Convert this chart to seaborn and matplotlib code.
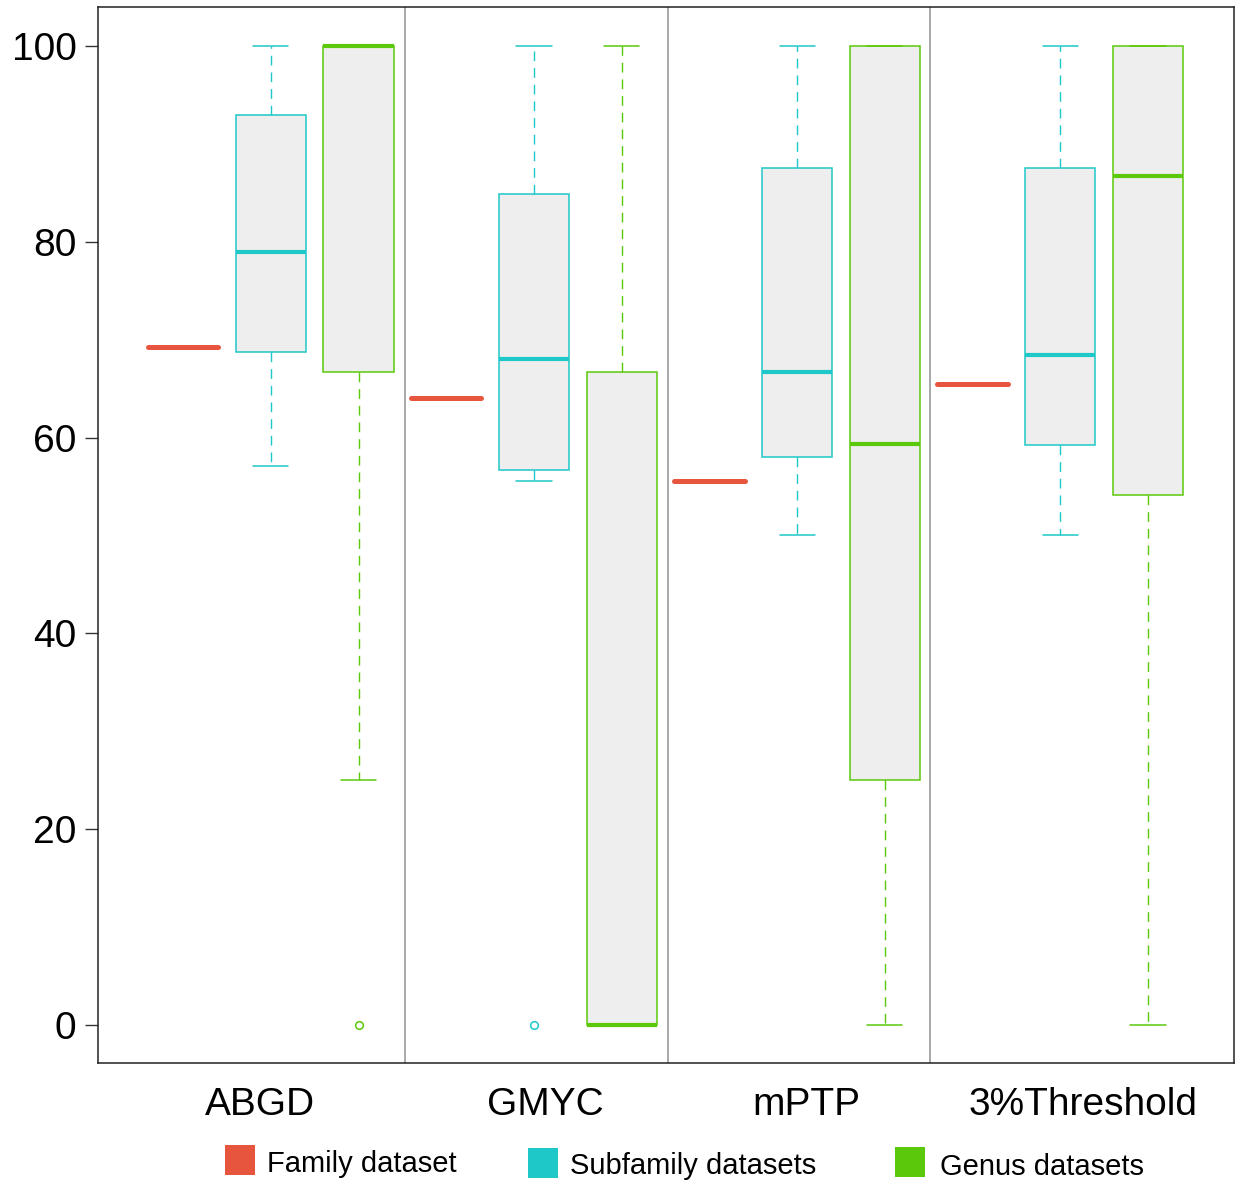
import numpy as np
import matplotlib
matplotlib.use("Agg")
import matplotlib.pyplot as plt
import matplotlib.patches as mpatches
import matplotlib.transforms as mtransforms
import seaborn as sns

# ---- data ----
methods = ["ABGD", "GMYC", "mPTP", "3%Threshold"]
legend_labels = ["Family dataset", "Subfamily datasets", "Genus datasets"]

family_values = [69.2, 64.0, 55.6, 65.5]

sub_whislo = [57.1, 55.6, 50.0, 50.0]
sub_q1 = [68.7, 56.7, 58.0, 59.2]
sub_med = [78.9, 68.0, 66.7, 68.4]
sub_q3 = [92.9, 84.9, 87.5, 87.5]
sub_whishi = [100, 100, 100, 100]
sub_fliers = [[], [0], [], []]

genus_whislo = [25.0, 0.0, 0.0, 0.0]
genus_q1 = [66.7, 0.0, 25.0, 54.1]
genus_med = [100.0, 0.0, 59.3, 86.7]
genus_q3 = [100.0, 66.7, 100.0, 100.0]
genus_whishi = [100, 100, 100, 100]
genus_fliers = [[0], [], [], []]

yticks = [0, 20, 40, 60, 80, 100]

# ---- style ----
sns.set_theme(style="white")
plt.rcParams["font.family"] = ["Liberation Sans", "DejaVu Sans"]

c_fam = "#E8553F"
c_sub = "#1EC8C8"
c_gen = "#5BC80B"
fill = "#EEEEEE"

fig = plt.figure(figsize=(12.36, 11.84), dpi=100)
ax = fig.add_axes([98 / 1236, 1 - 1063 / 1184, (1234 - 98) / 1236, (1063 - 7) / 1184])

stats, colors, kinds = [], [], []
for i in range(len(methods)):
    v = family_values[i]
    stats.append(dict(med=v, q1=v, q3=v, whislo=v, whishi=v, fliers=[]))
    colors.append(c_fam); kinds.append("fam")
    stats.append(dict(med=sub_med[i], q1=sub_q1[i], q3=sub_q3[i],
                      whislo=sub_whislo[i], whishi=sub_whishi[i], fliers=sub_fliers[i]))
    colors.append(c_sub); kinds.append("box")
    stats.append(dict(med=genus_med[i], q1=genus_q1[i], q3=genus_q3[i],
                      whislo=genus_whislo[i], whishi=genus_whishi[i], fliers=genus_fliers[i]))
    colors.append(c_gen); kinds.append("box")

positions = np.arange(1, len(stats) + 1)
art = ax.bxp(stats, positions=positions, widths=0.8, patch_artist=True,
             showfliers=True, manage_ticks=False)

for j, (col, kind) in enumerate(zip(colors, kinds)):
    box = art["boxes"][j]
    med = art["medians"][j]
    if kind == "fam":
        box.set_visible(False)
        med.set_color(col); med.set_linewidth(3.6); med.set_solid_capstyle("round")
        for w in art["whiskers"][2 * j:2 * j + 2]:
            w.set_visible(False)
        for c in art["caps"][2 * j:2 * j + 2]:
            c.set_visible(False)
        continue
    box.set_facecolor(fill)
    box.set_edgecolor(col)
    box.set_linewidth(1.1)
    med.set_color(col); med.set_linewidth(3.0); med.set_solid_capstyle("butt")
    for w in art["whiskers"][2 * j:2 * j + 2]:
        w.set_color(col); w.set_linewidth(1.0); w.set_linestyle((0, (7, 5)))
    for c in art["caps"][2 * j:2 * j + 2]:
        c.set_color(col); c.set_linewidth(1.1)
    fl = art["fliers"][j]
    fl.set_marker("o"); fl.set_markerfacecolor("none"); fl.set_markeredgecolor(col)
    fl.set_markersize(5.5); fl.set_markeredgewidth(1.1)

# separators between methods
for xs in [3.53, 6.53, 9.52]:
    ax.axvline(xs, color="#999999", lw=1.2, zorder=0)

ax.set_xlim(0.03, 12.98)
ax.set_ylim(-3.9, 103.98)
ax.set_yticks(yticks)
ax.set_yticklabels([str(t) for t in yticks], fontsize=28)
ax.set_xticks(positions)
ax.set_xticklabels([])
ax.tick_params(axis="x", length=2, color="#cccccc", width=0.8)
ax.tick_params(axis="y", left=True, length=9.5, width=1.0, color="#333333", pad=6, labelcolor="black")
for s in ax.spines.values():
    s.set_visible(True)
    s.set_color("#222222")
    s.set_linewidth(1.1)

# group labels
trans = mtransforms.blended_transform_factory(ax.transData, fig.transFigure)
label_x = [1.88, 5.13, 8.10, 11.26]
for lx, name in zip(label_x, methods):
    ax.text(lx, 1 - 1105 / 1184, name, transform=trans, ha="center", va="center",
            fontsize=28, color="black", clip_on=False)

# legend (manual, as in reference)
leg_sq = [(225, 1145), (528, 1148), (895, 1147)]
leg_tx = [(267, 1164), (570, 1166), (940, 1167)]
for (sx, sy), (tx, ty), col, lab in zip(leg_sq, leg_tx, [c_fam, c_sub, c_gen], legend_labels):
    fig.patches.append(mpatches.Rectangle((sx / 1236, 1 - (sy + 30) / 1184), 30 / 1236, 30 / 1184,
                                          transform=fig.transFigure, facecolor=col, edgecolor="none"))
    fig.text(tx / 1236, 1 - ty / 1184, lab, ha="left", va="center", fontsize=21, color="black")

fig.savefig("out.png", dpi=100, facecolor="white")
